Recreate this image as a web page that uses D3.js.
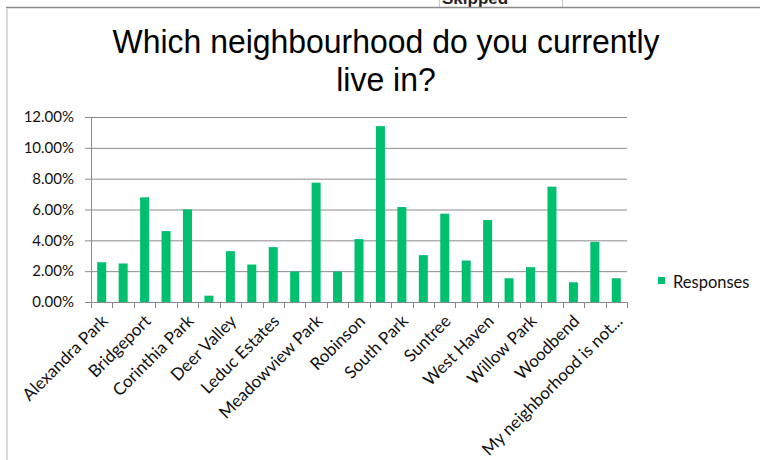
<!DOCTYPE html>
<html>
<head>
<meta charset="utf-8">
<script src="https://cdn.jsdelivr.net/npm/d3@7"></script>
<style>
  html, body { margin: 0; padding: 0; background: #ffffff; }
  svg { display: block; }
</style>
</head>
<body>
<div id="chart"></div>
<script>
// Survey responses: share of respondents per neighbourhood (percent)
const categories = [
  "Alexandra Park", "Black Stone", "Bridgeport", "Caledonia Park", "Corinthia Park",
  "Crystal Creek", "Deer Valley", "Downtown", "Leduc Estates", "Linsford Park",
  "Meadowview Park", "North Telford", "Robinson", "South Fork", "South Park",
  "Stonecrest", "Suntree", "Tribute", "West Haven", "Westview",
  "Willow Park", "Windrose", "Woodbend", "Outside of Leduc", "My neighborhood is not..."
];
const responses = [
  2.58, 2.50, 6.79, 4.60, 6.01,
  0.41, 3.30, 2.43, 3.56, 1.98,
  7.74, 1.98, 4.08, 11.41, 6.16,
  3.04, 5.73, 2.69, 5.32, 1.54,
  2.26, 7.48, 1.28, 3.90, 1.54
];
const yTicks = [0, 2, 4, 6, 8, 10, 12];
const titleLines = ["Which neighbourhood do you currently", "live in?"];
const seriesName = "Responses";

const W = 760, H = 460;
const green = "#00bf6f";
const gridColor = "#8a8a8a";
const labelFont = "Lato, 'Open Sans', sans-serif";

const svg = d3.select("#chart").append("svg")
  .attr("width", W).attr("height", H);

svg.append("rect").attr("width", W).attr("height", H).attr("fill", "#fff");

// Spreadsheet frame around the chart object (the sheet row above is cut by the frame)
const clip = svg.append("defs").append("clipPath").attr("id", "topClip");
clip.append("rect").attr("x", 0).attr("y", 0).attr("width", W).attr("height", 7);
svg.append("text")
  .attr("x", 442).attr("y", 4)
  .attr("clip-path", "url(#topClip)")
  .attr("font-family", "'Liberation Sans', Arial, sans-serif")
  .attr("font-weight", "bold").attr("font-size", 17).attr("fill", "#222")
  .text("Skipped");
[439.5, 562.5].forEach(x => svg.append("line")
  .attr("x1", x).attr("x2", x).attr("y1", 0).attr("y2", 7)
  .attr("stroke", "#c8c8c8").attr("stroke-width", 1));
svg.append("line")
  .attr("x1", 6).attr("x2", W).attr("y1", 7.5).attr("y2", 7.5)
  .attr("stroke", "#8c8c8c").attr("stroke-width", 1.5);
svg.append("line")
  .attr("x1", 7).attr("x2", 7).attr("y1", 8).attr("y2", H)
  .attr("stroke", "#dcdcdc").attr("stroke-width", 2);

// Title, slightly condensed
const title = svg.append("text")
  .attr("transform", "translate(386,0) scale(0.94,1)")
  .attr("text-anchor", "middle")
  .attr("font-family", "'Liberation Sans', Arial, sans-serif")
  .attr("font-size", 34).attr("fill", "#000");
titleLines.forEach((t, i) => title.append("tspan")
  .attr("x", 0).attr("y", 53 + i * 38).text(t));

// Scales
const plot = { left: 91, right: 627, top: 117, bottom: 302 };
const pad = 0.58;
const x = d3.scaleBand()
  .domain(categories)
  .range([plot.left, plot.right])
  .paddingInner(pad).paddingOuter(pad / 2);
const y = d3.scaleLinear().domain([0, 12]).range([plot.bottom, plot.top]);

// Gridlines and y axis
const yAxis = d3.axisLeft(y)
  .tickValues(yTicks)
  .tickSize(6)
  .tickFormat(d => d.toFixed(2) + "%");
const gy = svg.append("g").attr("transform", `translate(${plot.left},0)`).call(yAxis);
gy.select(".domain").attr("stroke", gridColor);
gy.selectAll(".tick line").attr("stroke", gridColor);
gy.selectAll(".tick text")
  .attr("x", -17)
  .attr("font-family", labelFont).attr("font-size", 15).attr("fill", "#111");
gy.selectAll(".tick").filter(d => d > 0).append("line")
  .attr("x1", 0).attr("x2", plot.right - plot.left)
  .attr("stroke", gridColor).attr("stroke-width", 1);

// Bars
svg.append("g").selectAll("rect")
  .data(categories.map((c, i) => ({ c, v: responses[i] })))
  .join("rect")
  .attr("x", d => x(d.c))
  .attr("width", x.bandwidth())
  .attr("y", d => y(d.v))
  .attr("height", d => y(0) - y(d.v))
  .attr("fill", green);

// X axis: ticks at category boundaries, every other label shown
const step = x.step();
const boundaries = categories.map(c => x(c) - step * pad / 2).concat([plot.right]);
const gx = svg.append("g");
gx.append("line")
  .attr("x1", plot.left).attr("x2", plot.right)
  .attr("y1", plot.bottom + 0.5).attr("y2", plot.bottom + 0.5)
  .attr("stroke", gridColor);
gx.selectAll("line.tk").data(boundaries).join("line").attr("class", "tk")
  .attr("x1", d => Math.round(d) + 0.5).attr("x2", d => Math.round(d) + 0.5)
  .attr("y1", plot.bottom).attr("y2", plot.bottom + 6)
  .attr("stroke", gridColor);
gx.selectAll("text").data(categories.filter((c, i) => i % 2 === 0)).join("text")
  .attr("transform", d => `translate(${x(d) + x.bandwidth() / 2 + 3},${plot.bottom + 16}) rotate(-45)`)
  .attr("text-anchor", "end")
  .attr("dy", "0.35em")
  .attr("font-family", labelFont).attr("font-size", 17).attr("fill", "#111")
  .text(d => d);

// Legend
const lg = svg.append("g").attr("transform", "translate(658,277)");
lg.append("rect").attr("width", 7).attr("height", 7).attr("fill", green);
lg.append("text").attr("x", 15).attr("y", 11)
  .attr("font-family", labelFont).attr("font-size", 16.5).attr("fill", "#111")
  .text(seriesName);
</script>
</body>
</html>
